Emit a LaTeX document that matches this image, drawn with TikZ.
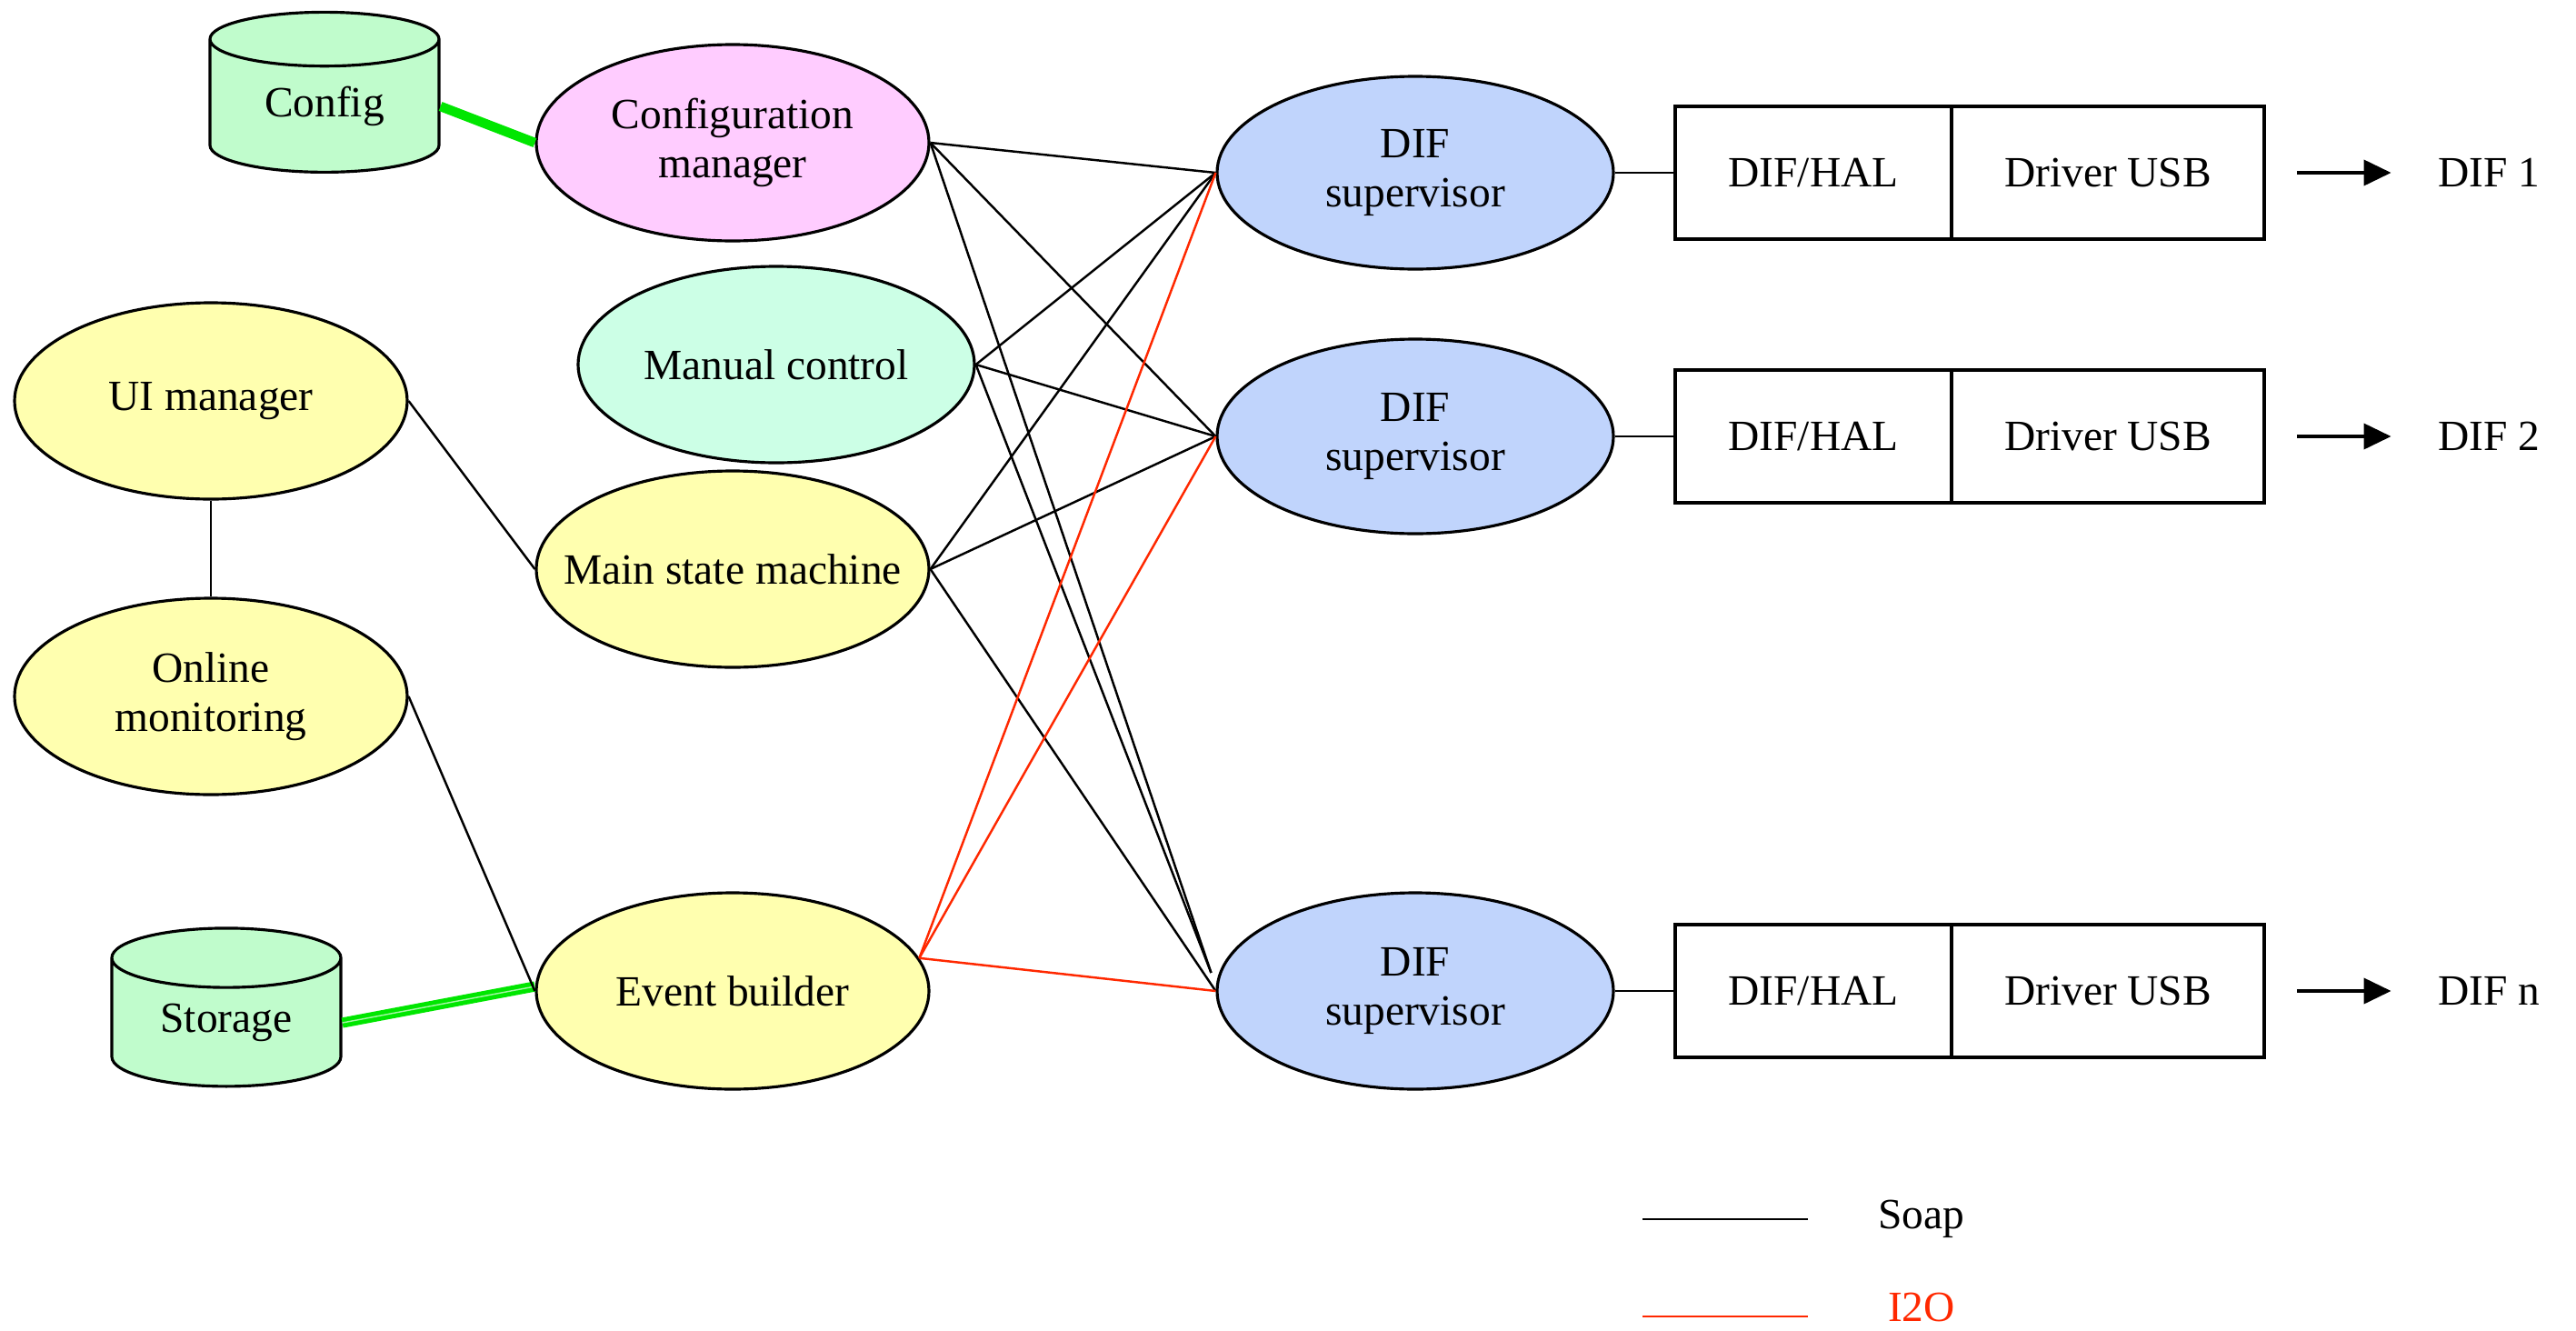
\documentclass[tikz,border=0pt]{standalone}
\usepackage{fontspec}
\setmainfont{Liberation Serif}
\usepackage{tikz}
\usetikzlibrary{arrows.meta,shapes,positioning}
\usepackage{xcolor}
\definecolor{dbgreen}{RGB}{192,252,204}
\definecolor{cfgpink}{RGB}{255,204,255}
\definecolor{manmint}{RGB}{204,255,230}
\definecolor{appyellow}{RGB}{255,255,175}
\definecolor{difblue}{RGB}{192,212,252}
\definecolor{linkgreen}{RGB}{0,230,0}
\definecolor{itored}{RGB}{255,40,0}
\tikzstyle{process} = [ellipse, draw, line width=0.9pt, minimum width=4.32cm, minimum height=2.16cm, align=center, inner sep=0pt]
\tikzstyle{database} = [cylinder, shape border rotate=90, aspect=0.45, draw, line width=0.9pt, fill=dbgreen, minimum width=2.52cm, minimum height=1.76cm, inner sep=0pt]
\tikzstyle{layer} = [rectangle, draw, line width=1pt, minimum height=1.46cm, inner sep=0pt]
\tikzstyle{soap} = [line width=0.7pt]
\tikzstyle{i2o} = [line width=0.7pt, color=itored]
\tikzstyle{dblink} = [line width=3pt, color=linkgreen]
\tikzstyle{arrow} = [line width=1.1pt, -{Triangle[length=3mm,width=2.8mm]}]

\begin{document}
\begin{tikzpicture}[font=\fontsize{13.5}{15.5}\selectfont]
\useasboundingbox (0,0) rectangle (28.34,-14.63);
% Databases
\node (config) [database] at (3.57,-1.17) {Config};
\node (storage) [database, minimum height=1.74cm] at (2.49,-11.25) {Storage};

% Run control applications
\node (cfgman) [process, fill=cfgpink] at (8.06,-1.57) {Configuration\\manager};
\node (manual) [process, fill=manmint, minimum width=4.36cm] at (8.54,-4.01) {Manual control};
\node (uiman) [process, fill=appyellow] at (2.32,-4.41) {UI manager};
\node (msm) [process, fill=appyellow, inner xsep=-0.5cm] at (8.06,-6.26) {Main state machine};
\node (onmon) [process, fill=appyellow] at (2.32,-7.66) {Online\\monitoring};
\node (evb) [process, fill=appyellow] at (8.06,-10.90) {Event builder};

% DIF supervisors
\node (dif1) [process, fill=difblue, minimum width=4.36cm, minimum height=2.12cm] at (15.57,-1.90) {DIF\\supervisor};
\node (dif2) [process, fill=difblue, minimum width=4.36cm, minimum height=2.14cm] at (15.57,-4.80) {DIF\\supervisor};
\node (dif3) [process, fill=difblue, minimum width=4.36cm] at (15.57,-10.90) {DIF\\supervisor};

% Hardware chains
\node (hal1) [layer, minimum width=3.04cm, right of=dif1, node distance=4.38cm] {DIF/HAL};
\node (usb1) [layer, minimum width=3.44cm, right of=hal1, node distance=3.24cm] {Driver USB};
\node (out1) [right of=usb1, node distance=4.19cm] {DIF 1};
\node (hal2) [layer, minimum width=3.04cm, right of=dif2, node distance=4.38cm] {DIF/HAL};
\node (usb2) [layer, minimum width=3.44cm, right of=hal2, node distance=3.24cm] {Driver USB};
\node (out2) [right of=usb2, node distance=4.19cm] {DIF 2};
\node (hal3) [layer, minimum width=3.04cm, right of=dif3, node distance=4.38cm] {DIF/HAL};
\node (usb3) [layer, minimum width=3.44cm, right of=hal3, node distance=3.24cm] {Driver USB};
\node (out3) [right of=usb3, node distance=4.19cm] {DIF n};

% Database links
\draw[dblink] (config.east) -- (cfgman.west);
\draw[dblink, line width=1.4pt, double=linkgreen!35!white, double distance=0.4pt] (storage.east) -- ([yshift=0.5mm]evb.west);

% Soap links
\draw[soap] (uiman.east) -- (msm.west);
\draw[soap] (uiman.south) -- (onmon.north);
\draw[soap] (onmon.east) -- (evb.west);
\draw[soap] (cfgman.east) -- (dif1.west);
\draw[soap] (cfgman.east) -- (dif2.west);
\draw[soap] (cfgman.east) -- ([shift={(-0.05,0.2)}]dif3.west);
\draw[soap] (manual.east) -- (dif1.west);
\draw[soap] (manual.east) -- (dif2.west);
\draw[soap] (manual.east) -- ([shift={(-0.05,0.2)}]dif3.west);
\draw[soap] (msm.east) -- (dif1.west);
\draw[soap] (msm.east) -- (dif2.west);
\draw[soap] (msm.east) -- (dif3.west);

% I2O links
\draw[i2o] (evb.10) -- (dif1.west);
\draw[i2o] (evb.10) -- (dif2.west);
\draw[i2o] (evb.10) -- (dif3.west);

% Supervisor to hardware
\draw[soap] (dif1) -- (hal1);
\draw[soap] (dif2) -- (hal2);
\draw[soap] (dif3) -- (hal3);
\draw[arrow, shorten <=3.4mm, shorten >=3.9mm] (usb1) -- (out1);
\draw[arrow, shorten <=3.4mm, shorten >=3.9mm] (usb2) -- (out2);
\draw[arrow, shorten <=3.4mm, shorten >=3.9mm] (usb3) -- (out3);

% Legend
\coordinate (soapstart) at (18.07,-13.41);
\coordinate (i2ostart) at (18.07,-14.48);
\node (soaplbl) at (21.14,-13.41) {Soap};
\node (i2olbl) [text=itored] at (21.14,-14.38) {I2O};
\draw[soap, shorten >=6.5mm] (soapstart) -- (soaplbl);
\draw[i2o, shorten >=7.6mm] (i2ostart) -- (i2ostart -| i2olbl.west);
\end{tikzpicture}
\end{document}
